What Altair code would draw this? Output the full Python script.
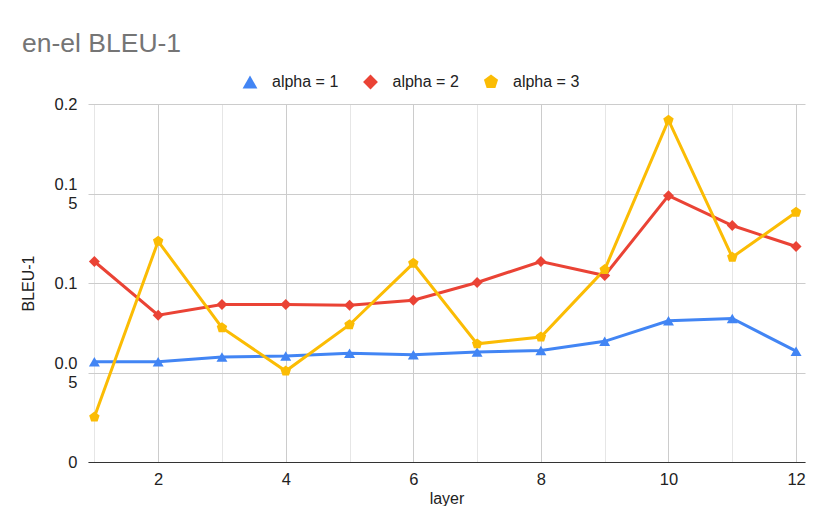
import altair as alt
import pandas as pd

layers = list(range(1, 13))
alpha1 = [0.056, 0.056, 0.0586, 0.0592, 0.0608, 0.0599, 0.0614, 0.0623, 0.0674, 0.0789, 0.0802, 0.0619]
alpha2 = [0.112, 0.082, 0.088, 0.088, 0.0876, 0.0904, 0.1003, 0.112, 0.1042, 0.1488, 0.1321, 0.1204]
alpha3 = [0.0251, 0.1233, 0.075, 0.0508, 0.0767, 0.111, 0.066, 0.0698, 0.1075, 0.191, 0.1144, 0.1395]
series_names = ["alpha = 1", "alpha = 2", "alpha = 3"]
colors = ["#4285F4", "#EA4335", "#FBBC04"]
pentagon = "M0,-1L0.951,-0.309L0.588,0.809L-0.588,0.809L-0.951,-0.309Z"
shapes = ["triangle-up", "diamond", pentagon]

rows = []
for name, vals in zip(series_names, [alpha1, alpha2, alpha3]):
    for l, v in zip(layers, vals):
        rows.append({"layer": l, "value": v, "series": name})
df = pd.DataFrame(rows)

FONT = "Liberation Sans"

x_enc = alt.X(
    "layer:Q",
    scale=alt.Scale(domain=[0.9, 12.14], nice=False, zero=False),
    axis=alt.Axis(
        values=layers,
        title="layer",
        labelExpr="datum.value % 2 == 0 ? datum.label : ''",
        grid=True,
        gridColor={"condition": {"test": "datum.value % 2 == 0", "value": "#cccccc"}, "value": "#e6e6e6"},
        gridWidth=1,
        domainColor="#333333",
        domainWidth=1.2,
        ticks=False,
        labelPadding=9,
        labelFontSize=16.5,
        labelColor="#222222",
        titleFontSize=16,
        titleFontWeight="normal",
        titleColor="#222222",
        titlePadding=3,
    ),
)
y_enc = alt.Y(
    "value:Q",
    scale=alt.Scale(domain=[0, 0.2], nice=False),
    axis=alt.Axis(
        values=[0, 0.05, 0.1, 0.15, 0.2],
        title="BLEU-1",
        labelExpr=(
            "datum.value == 0 ? '0' : (datum.value == 0.05 ? ['0.0','5'] : "
            "(datum.value == 0.1 ? '0.1' : (datum.value == 0.15 ? ['0.1','5'] : '0.2')))"
        ),
        labelOffset={"condition": {"test": "datum.value == 0.05 || datum.value == 0.15", "value": -9}, "value": 0},
        grid=True,
        gridColor="#cccccc",
        domain=False,
        ticks=False,
        labelPadding=11,
        labelFontSize=16.5,
        labelColor="#222222",
        labelAlign="right",
        titleFontSize=16,
        titleFontWeight="normal",
        titleColor="#222222",
        titlePadding=18,
    ),
)
legend_kw = dict(
    title=None,
    orient="none",
    legendX=154,
    legendY=-30,
    direction="horizontal",
    labelFontSize=16,
    labelColor="#222222",
    symbolSize=220,
    symbolStrokeWidth=0,
    labelOffset=14,
    columnPadding=23.5,
)
color_enc = alt.Color("series:N", scale=alt.Scale(domain=series_names, range=colors), legend=alt.Legend(**legend_kw))
shape_enc = alt.Shape("series:N", scale=alt.Scale(domain=series_names, range=shapes), legend=alt.Legend(**legend_kw))

base = alt.Chart(df)
lines = base.mark_line(strokeWidth=3).encode(x=x_enc, y=y_enc, color=color_enc, detail="series:N")
points = base.mark_point(filled=True, opacity=1, size=120).encode(x=x_enc, y=y_enc, color=color_enc, shape=shape_enc)

chart = (
    alt.layer(lines, points)
    .properties(
        width=717,
        height=358,
        title=alt.TitleParams(
            "en-el BLEU-1",
            anchor="start",
            frame="group",
            fontSize=26.5,
            fontWeight="normal",
            color="#757575",
            font=FONT,
            dx=-66,
            dy=-13,
        ),
        autosize=alt.AutoSizeParams(type="none"),
        padding={"left": 80, "top": 96, "right": 17, "bottom": 44},
    )
    .configure(font=FONT)
    .configure_view(stroke=None)
)

chart.save("out.html", embed_options={"renderer": "svg", "actions": False})
